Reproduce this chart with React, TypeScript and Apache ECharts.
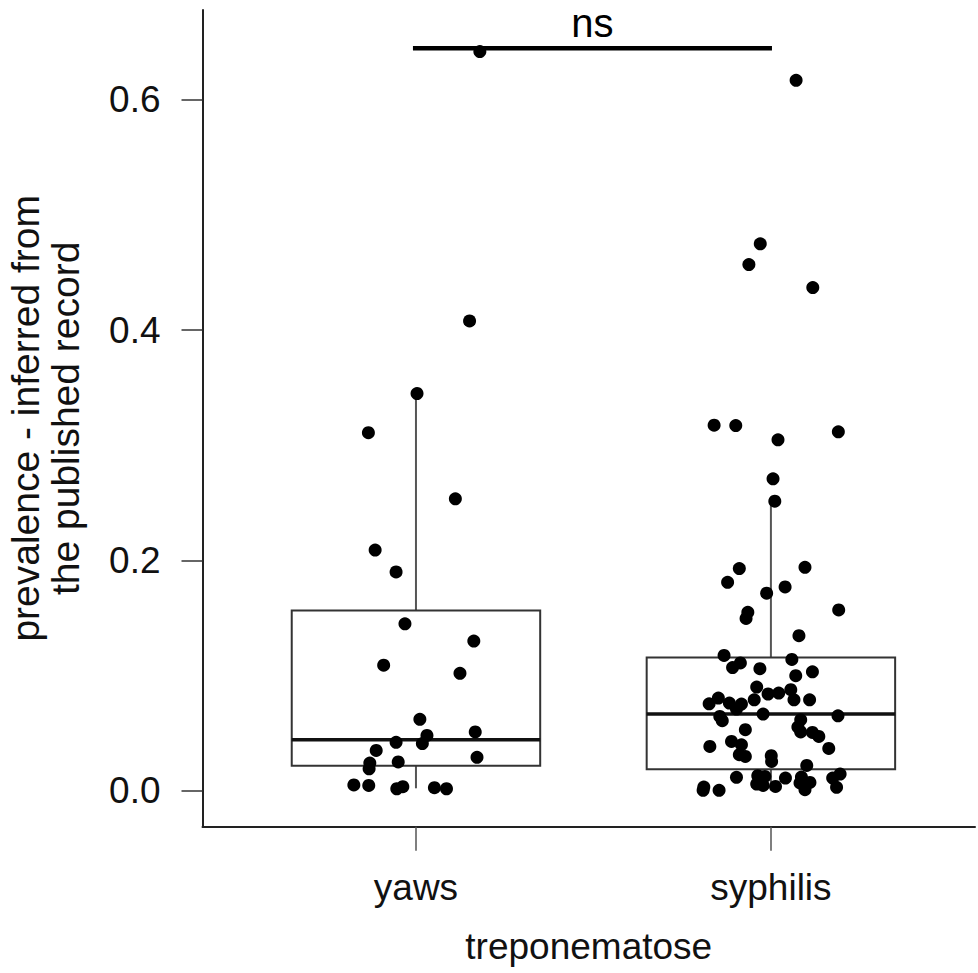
import React, { useEffect, useRef } from "react";
import * as echarts from "echarts";

const categories = ["yaws", "syphilis"];
const yTicks = [0, 0.2, 0.4, 0.6];

// jittered x positions (in category units) and prevalence values
const yawsX = [1.180, 1.151, 1.003, 0.866, 1.111, 0.885, 0.944, 0.969, 1.163, 0.909, 1.124, 1.011, 1.031, 1.167, 0.944, 1.018, 0.888, 1.172, 0.870, 0.868, 0.950, 0.825, 0.867, 0.946, 0.963, 1.052, 1.086];
const yawsY = [0.642, 0.408, 0.345, 0.311, 0.2535, 0.209, 0.190, 0.145, 0.130, 0.109, 0.102, 0.062, 0.048, 0.051, 0.042, 0.041, 0.035, 0.029, 0.024, 0.019, 0.025, 0.005, 0.0046, 0.0017, 0.0035, 0.0026, 0.0017];

const syphX = [2.071, 1.970, 1.938, 2.118, 1.840, 1.901, 2.190, 2.020, 2.006, 2.011, 1.911, 2.096, 1.878, 2.040, 1.988, 2.191, 1.935, 1.930, 2.079, 1.868, 2.059, 1.914, 1.892, 1.969, 2.117, 2.070, 1.960, 1.852, 1.826, 1.883, 1.917, 1.903, 1.953, 1.992, 2.022, 2.056, 2.065, 2.109, 1.978, 2.189, 1.856, 1.863, 2.084, 2.076, 2.084, 1.928, 2.117, 2.135, 1.889, 1.828, 1.917, 2.163, 1.911, 1.928, 2.001, 2.002, 2.101, 1.903, 1.963, 1.983, 2.041, 2.086, 2.195, 2.174, 1.960, 1.978, 2.013, 2.082, 2.110, 2.096, 2.185, 1.811, 1.809, 1.854, 1.969];
const syphY = [0.617, 0.475, 0.457, 0.437, 0.3175, 0.3172, 0.3117, 0.3048, 0.2709, 0.2515, 0.193, 0.194, 0.181, 0.177, 0.1716, 0.157, 0.155, 0.1496, 0.1346, 0.1175, 0.114, 0.111, 0.107, 0.106, 0.1033, 0.0999, 0.090, 0.0805, 0.0755, 0.0761, 0.0753, 0.0709, 0.079, 0.084, 0.0848, 0.0877, 0.079, 0.079, 0.0666, 0.0651, 0.0645, 0.0608, 0.0616, 0.0553, 0.051, 0.053, 0.0506, 0.0471, 0.0428, 0.0385, 0.0399, 0.0367, 0.0313, 0.0298, 0.0304, 0.0254, 0.022, 0.0116, 0.013, 0.0124, 0.011, 0.0119, 0.0145, 0.011, 0.0058, 0.0046, 0.0037, 0.0067, 0.0072, 0.0009, 0.0029, 0.0032, 0.0003, 0.0003, 0.0096];

// box stats: [position, lower whisker, Q1, median, Q3, upper whisker]
const yawsBox = [1, 0.0021, 0.0217, 0.0443, 0.1565, 0.345];
const syphBox = [2, 0.0003, 0.0187, 0.0666, 0.1157, 0.2515];

// significance bar
const sigBar = [[0.9915, 0.6448], [2.003, 0.6448]];
const sigLabel = "ns";

const FONT = "Liberation Sans, Arial, Helvetica, sans-serif";

export default function App() {
  const ref = useRef<HTMLDivElement>(null);
  useEffect(() => {
    if (!ref.current) return;
    const chart = echarts.init(ref.current, null, { renderer: "svg" });
    const pts = (xs: number[], ys: number[]) => xs.map((x, i) => [x, ys[i]]);
    chart.setOption({
      animation: false,
      backgroundColor: "#ffffff",
      textStyle: { fontFamily: FONT },
      grid: { left: 202.5, right: 3, top: 10, bottom: 146.3, containLabel: false, outerBoundsMode: "none" },
      xAxis: {
        type: "value",
        min: 0.3986,
        max: 2.575,
        splitLine: { show: false },
        axisLine: { show: true, onZero: false, lineStyle: { color: "#222", width: 2 } },
        axisTick: { show: true, length: 24, customValues: [1, 2], lineStyle: { color: "#555", width: 1.5 } },
        axisLabel: {
          show: true,
          customValues: [1, 2],
          margin: 42,
          fontSize: 37,
          color: "#111",
          fontFamily: FONT,
          formatter: (v: number) => categories[Math.round(v) - 1] ?? "",
        },
        name: "treponematose",
        nameLocation: "middle",
        nameGap: 101,
        nameTextStyle: { fontSize: 37, color: "#111", fontFamily: FONT },
      },
      yAxis: {
        type: "value",
        min: -0.03126,
        max: 0.6781,
        splitLine: { show: false },
        axisLine: { show: true, onZero: false, lineStyle: { color: "#222", width: 2 } },
        axisTick: { show: true, length: 21, customValues: yTicks, lineStyle: { color: "#333", width: 1.5 } },
        axisLabel: {
          show: true,
          customValues: yTicks,
          margin: 42,
          fontSize: 37,
          color: "#111",
          fontFamily: FONT,
          formatter: (v: number) => v.toFixed(1),
        },
        name: "prevalence - inferred from\nthe published record",
        nameLocation: "middle",
        nameRotate: 90,
        nameGap: 117,
        nameTextStyle: { fontSize: 39, lineHeight: 40, color: "#111", fontFamily: FONT },
      },
      series: [
        {
          type: "custom",
          data: [yawsBox, syphBox],
          encode: { x: 0, y: [1, 2, 3, 4, 5] },
          z: 1,
          renderItem: (params: any, api: any) => {
            const x = api.value(0);
            const lo = api.coord([x, api.value(1)]);
            const q1 = api.coord([x, api.value(2)]);
            const med = api.coord([x, api.value(3)]);
            const q3 = api.coord([x, api.value(4)]);
            const hi = api.coord([x, api.value(5)]);
            const hw = api.size([0.35, 0])[0];
            return {
              type: "group",
              children: [
                { type: "line", shape: { x1: hi[0], y1: hi[1], x2: q3[0], y2: q3[1] }, style: { stroke: "#555", lineWidth: 2 } },
                { type: "line", shape: { x1: lo[0], y1: lo[1], x2: q1[0], y2: q1[1] }, style: { stroke: "#555", lineWidth: 2 } },
                { type: "rect", shape: { x: q3[0] - hw, y: q3[1], width: 2 * hw, height: q1[1] - q3[1] }, style: { fill: "none", stroke: "#333", lineWidth: 2 } },
                { type: "line", shape: { x1: med[0] - hw, y1: med[1], x2: med[0] + hw, y2: med[1] }, style: { stroke: "#111", lineWidth: 3.5 } },
              ],
            };
          },
        },
        {
          type: "line",
          data: sigBar,
          symbol: "none",
          z: 3,
          lineStyle: { color: "#000", width: 4.5 },
        },
        {
          type: "scatter",
          data: [[(sigBar[0][0] + sigBar[1][0]) / 2, sigBar[0][1]]],
          symbolSize: 0,
          z: 3,
          itemStyle: { opacity: 1 },
          label: { show: true, position: "top", distance: 5, formatter: sigLabel, fontSize: 40, color: "#000", opacity: 1, fontFamily: FONT },
        },
        {
          type: "scatter",
          data: pts(yawsX, yawsY),
          symbol: "circle",
          symbolSize: 13,
          z: 4,
          itemStyle: { color: "#000", opacity: 1 },
        },
        {
          type: "scatter",
          data: pts(syphX, syphY),
          symbol: "circle",
          symbolSize: 13,
          z: 4,
          itemStyle: { color: "#000", opacity: 1 },
        },
      ],
    });
    return () => chart.dispose();
  }, []);
  return <div ref={ref} style={{ position: "fixed", left: 0, top: 0, width: 978, height: 973 }} />;
}
